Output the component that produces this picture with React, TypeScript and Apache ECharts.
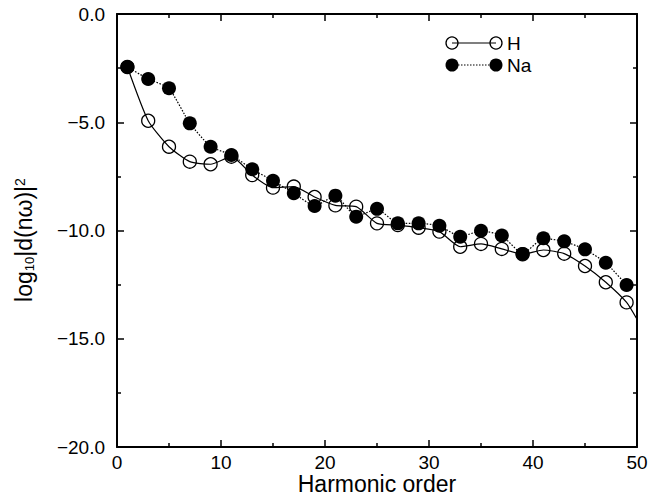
import React, { useEffect, useRef } from "react";
import * as echarts from "echarts";

const harmonics = [1, 3, 5, 7, 9, 11, 13, 15, 17, 19, 21, 23, 25, 27, 29, 31, 33, 35, 37, 39, 41, 43, 45, 47, 49];
const hValues = [-2.45, -4.93, -6.13, -6.82, -6.94, -6.59, -7.44, -8.02, -7.97, -8.45, -8.84, -8.9, -9.67, -9.75, -9.87, -10.05, -10.75, -10.62, -10.85, -11.1, -10.9, -11.07, -11.64, -12.39, -13.32];
const naValues = [-2.45, -3.0, -3.43, -5.05, -6.13, -6.51, -7.17, -7.7, -8.28, -8.87, -8.39, -9.36, -9.0, -9.67, -9.67, -9.78, -10.29, -10.01, -10.23, -11.08, -10.36, -10.5, -10.87, -11.49, -12.52];
// the H curve continues to the right edge of the frame (no marker there)
const hEdge = { x: 50, y: -14.1 };

const xTicks = { min: 0, max: 50, interval: 10 };
const yTicks = { min: -20, max: 0, interval: 5 };

const FONT = '"Liberation Sans", Arial, Helvetica, sans-serif';

export default function App() {
  const ref = useRef<HTMLDivElement>(null);
  useEffect(() => {
    if (!ref.current) return;
    const chart = echarts.init(ref.current, undefined, { renderer: "svg" });

    const hData: any[] = harmonics.map((h, i) => [h, hValues[i]]);
    hData.push({ value: [hEdge.x, hEdge.y], symbol: "none" });
    const naData = harmonics.map((h, i) => [h, naValues[i]]);

    const mk = () => ({
      axisLine: { show: true, onZero: false, lineStyle: { color: "#000", width: 2 } },
      axisTick: { show: true, inside: true, length: 7, lineStyle: { color: "#000", width: 1.5 } },
      minorTick: { show: true, splitNumber: 2, length: 4, lineStyle: { color: "#000", width: 1.5 } },
      splitLine: { show: false },
      minorSplitLine: { show: false },
    });
    const fmtY = (v: number) => (v < 0 ? "\u2212" + Math.abs(v).toFixed(1) : v.toFixed(1));

    chart.setOption({
      animation: false,
      backgroundColor: "#fff",
      grid: { left: 117, right: 12, top: 14, bottom: 52, containLabel: false, outerBoundsMode: "none" },
      xAxis: [
        {
          type: "value", position: "bottom", ...xTicks, ...mk(),
          axisLabel: { color: "#000", fontSize: 19, fontFamily: FONT, margin: 6 },
        },
        {
          type: "value", position: "top", ...xTicks, ...mk(),
          axisLabel: { show: false },
        },
      ],
      yAxis: [
        {
          type: "value", position: "left", ...yTicks, ...mk(),
          axisLabel: { color: "#000", fontSize: 19, fontFamily: FONT, margin: 12, formatter: fmtY },
        },
        {
          type: "value", position: "right", ...yTicks, ...mk(),
          axisLabel: { show: false },
        },
      ],
      graphic: [
        {
          type: "text", x: 377, y: 484,
          style: {
            text: "Harmonic order", fontSize: 23, lineHeight: 23, fontFamily: FONT, fill: "#000",
            align: "center", verticalAlign: "middle",
          },
        },
        {
          type: "text", x: 24, y: 240, rotation: Math.PI / 2,
          style: {
            text: "{a|log}{sub|10}{a||d(n\u03c9)|}{sup|2}",
            align: "center", verticalAlign: "middle", fill: "#000",
            rich: {
              a: { fontSize: 23, fontFamily: FONT, fill: "#000" },
              sub: { fontSize: 13, fontFamily: FONT, fill: "#000", verticalAlign: "bottom" },
              sup: { fontSize: 14, fontFamily: FONT, fill: "#000", verticalAlign: "top" },
            },
          },
        },
        { type: "line", shape: { x1: 452, y1: 43, x2: 496, y2: 43 }, style: { stroke: "#000", lineWidth: 1.2 } },
        { type: "circle", shape: { cx: 452, cy: 43, r: 6 }, style: { fill: "rgba(0,0,0,0)", stroke: "#000", lineWidth: 1.3 } },
        { type: "circle", shape: { cx: 496, cy: 43, r: 6 }, style: { fill: "rgba(0,0,0,0)", stroke: "#000", lineWidth: 1.3 } },
        { type: "text", x: 507, y: 43, style: { text: "H", fontSize: 19, fontFamily: FONT, fill: "#000", verticalAlign: "middle" } },
        { type: "line", shape: { x1: 452, y1: 65, x2: 496, y2: 65 }, style: { stroke: "#000", lineWidth: 1.2, lineDash: [1.5, 1.5] } },
        { type: "circle", shape: { cx: 452, cy: 65, r: 6.5 }, style: { fill: "#000" } },
        { type: "circle", shape: { cx: 496, cy: 65, r: 6.5 }, style: { fill: "#000" } },
        { type: "text", x: 507, y: 65, style: { text: "Na", fontSize: 19, fontFamily: FONT, fill: "#000", verticalAlign: "middle" } },
      ],
      series: [
        {
          name: "H", type: "line", data: hData, smooth: 0.2,
          symbol: "circle", symbolSize: 13,
          itemStyle: { color: "rgba(0,0,0,0)", borderColor: "#000", borderWidth: 1.3 },
          lineStyle: { color: "#000", width: 1.2, type: "solid" },
          z: 2,
        },
        {
          name: "Na", type: "line", data: naData, smooth: 0.15,
          symbol: "circle", symbolSize: 14,
          itemStyle: { color: "#000" },
          lineStyle: { color: "#000", width: 1.2, type: [1.5, 1.5] },
          z: 3,
        },
      ],
    });
    return () => chart.dispose();
  }, []);
  return <div ref={ref} style={{ position: "fixed", left: 0, top: 0, width: 649, height: 499 }} />;
}
